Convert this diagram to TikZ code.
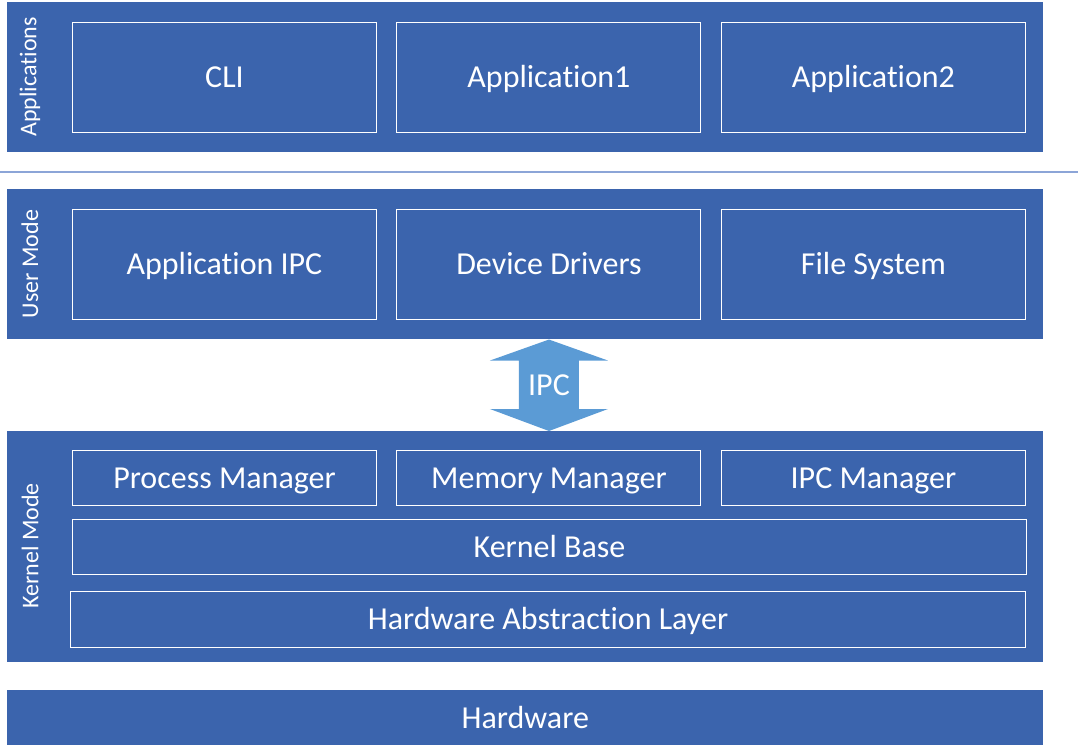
\documentclass[tikz,border=0pt]{standalone}
\usepackage{fontspec}
\setmainfont{Carlito}[Ligatures=NoCommon]
\usepackage{tikz}
\usetikzlibrary{positioning,calc}

\definecolor{bandblue}{RGB}{59,100,173}
\definecolor{arrowblue}{RGB}{91,155,213}
\definecolor{rulegray}{RGB}{140,165,215}

\begin{document}
\begin{tikzpicture}[x=0.75pt,y=-0.75pt,node distance=14.6pt,
    wh/.style 2 args={minimum width=#1*0.75pt,minimum height=#2*0.75pt},
    band/.style={fill=bandblue,text=white,inner sep=0pt,anchor=north west,
                 text height=17pt,text depth=1.5pt,
                 font=\fontsize{24}{28}\selectfont},
    part/.style={draw=white,line width=0.75pt,text=white,inner sep=0pt,
                 anchor=north west,text height=17pt,text depth=1.5pt,
                 font=\fontsize{24}{28}\selectfont},
    side/.style={text=white,rotate=90,inner sep=0pt,
                 font=\fontsize{18}{21}\selectfont}]

  \useasboundingbox (0,0) rectangle (1078,753);

  % layers
  \node[band,wh={1036}{150}] (apps) at (7,2) {};
  \node[band,wh={1036}{150}] (user) at (7,189) {};
  \node[band,wh={1036}{231}] (kernel) at (7,431) {};
  \node[band,wh={1036}{55}] (hw) at (7,690) {Hardware};

  \coordinate (ruleL) at (0,172);
  \coordinate (ruleR) at (1078,172);
  \draw[rulegray,line width=1pt] (ruleL) -- (ruleR);

  % side labels
  \node[side] (appslbl) at (30,77) {Applications};
  \node[side] (userlbl) at (30,264) {User Mode};
  \node[side] (kernlbl) at (30,546) {Kernel Mode};

  % applications
  \node[part,wh={304}{110}] (cli) at (72,22) {CLI};
  \node[part,wh={304}{110},right=of cli] (app1) {Application1};
  \node[part,wh={304}{110},right=of app1] (app2) {Application2};

  % user mode
  \node[part,wh={304}{110}] (appipc) at (72,209) {Application IPC};
  \node[part,wh={304}{110},right=of appipc] (devdrv) {Device Drivers};
  \node[part,wh={304}{110},right=of devdrv] (fsys) {File System};

  % kernel mode
  \node[part,wh={304}{55}] (procmgr) at (72,450) {Process Manager};
  \node[part,wh={304}{55},right=of procmgr] (memmgr) {Memory Manager};
  \node[part,wh={304}{55},right=of memmgr] (ipcmgr) {IPC Manager};
  \node[part,wh={954}{55}] (kbase) at (72,519) {Kernel Base};
  \node[part,wh={955}{56}] (hal) at (70,591) {Hardware Abstraction Layer};

  % IPC arrow
  \coordinate (ipctop) at (devdrv.south |- user.south);
  \coordinate (ipcbot) at (devdrv.south |- kernel.north);
  \fill[arrowblue] (ipctop) -- ++(59,21) -- ++(-29,0) |- ($(ipcbot)+(30,-22)$)
    -- ++(29,0) -- (ipcbot) -- ++(-59,-22) -- ++(29,0) |- ($(ipctop)+(-59,21)$)
    -- cycle;
  \node[text=white,text height=17pt,text depth=1.5pt,
        font=\fontsize{24}{28}\selectfont] (ipc)
    at ($(ipctop)!0.5!(ipcbot)$) {IPC};
\end{tikzpicture}
\end{document}
